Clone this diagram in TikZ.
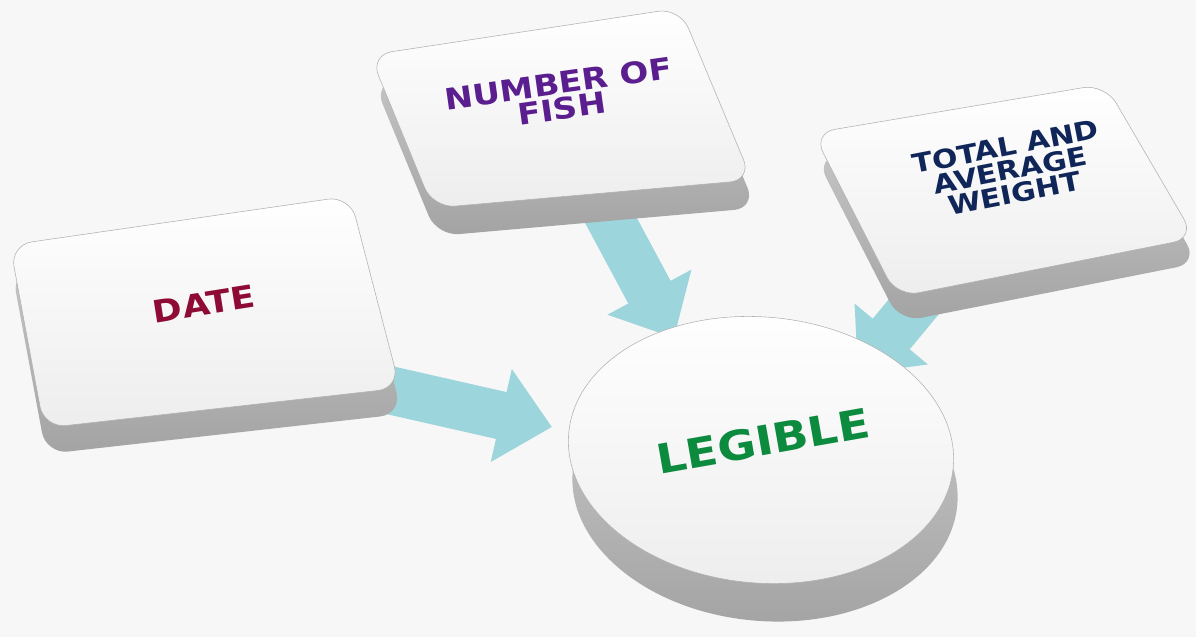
\documentclass[tikz,border=0pt]{standalone}
\usepackage{fontspec}
\setmainfont{DejaVu Sans}
\usetikzlibrary{arrows.meta}

\definecolor{meufundo}{HTML}{F7F7F7}
\definecolor{meuceleste}{HTML}{9CD5DC}
\definecolor{meuvinho}{HTML}{8E0B35}
\definecolor{meuroxo}{HTML}{5A1E8E}
\definecolor{meuazul}{HTML}{102659}
\definecolor{meuverde}{HTML}{0C8A3E}

\newcommand{\largo}[1]{\scalebox{1.15}[1]{#1}}

\tikzset{
  face/.style={top color=white, bottom color=gray!14, draw=gray!60, line width=0.4pt, rounded corners=0.55cm},
  lado/.style={top color=gray!40, bottom color=gray!72, rounded corners=0.55cm},
  seta/.style={meuceleste, line width=1.2cm, -{Triangle[length=1.3cm,width=2.3cm]}},
  rotulo/.style={font=\bfseries, align=center, inner sep=0pt},
}

\begin{document}
\begin{tikzpicture}[x=0.025cm, y=-0.025cm]
\useasboundingbox (0,0) rectangle (1196,637);
\fill [meufundo] (0,0) rectangle (1196,637);

% setas
\coordinate (date-saida) at (380,388);
\coordinate (legivel-a) at (552,427);
\coordinate (numero-saida) at (600,200);
\coordinate (legivel-b) at (674,338);
\coordinate (peso-saida) at (941,274);
\coordinate (legivel-c) at (858,374);
\draw [seta] (date-saida) -- (legivel-a);
\draw [seta] (numero-saida) -- (legivel-b);
\draw [seta] (peso-saida) -- (legivel-c);

% caixas
\path [lado] (12,271) -- (352,222) -- (402,414) -- (46,454) -- cycle;
\path [face] (10,245) -- (350,196) -- (400,388) -- (44,428) -- cycle;
\path [lado] (374,83) -- (684,36) -- (756,208) -- (437,236) -- cycle;
\path [face] (370,55) -- (680,8) -- (752,180) -- (433,208) -- cycle;
\path [lado] (816,158) -- (1108,109) -- (1198,263) -- (900,322) -- cycle;
\path [face] (813,133) -- (1105,84) -- (1195,238) -- (897,297) -- cycle;

% disco
\path [lado, rotate around={-5:(765,488)}] (765,488) ellipse [x radius=193, y radius=133];
\path [face, rotate around={-5:(761,450)}] (761,450) ellipse [x radius=193, y radius=133];

% textos
\node [rotulo, meuvinho, rotate=9, font=\bfseries\fontsize{22}{18}\selectfont] (date) at (204,304) {\largo{DATE}};
\node [rotulo, meuroxo, rotate=8, font=\bfseries\fontsize{21}{18}\selectfont] (numero) at (560,96) {\largo{NUMBER OF}\\\largo{FISH}};
\node [rotulo, meuazul, rotate=11, font=\bfseries\fontsize{18.5}{17}\selectfont] (peso) at (1010,170) {\largo{TOTAL AND}\\\largo{AVERAGE}\\\largo{WEIGHT}};
\node [rotulo, meuverde, rotate=10, font=\bfseries\fontsize{29}{30}\selectfont] (legivel) at (763,441) {\largo{LEGIBLE}};
\end{tikzpicture}
\end{document}
